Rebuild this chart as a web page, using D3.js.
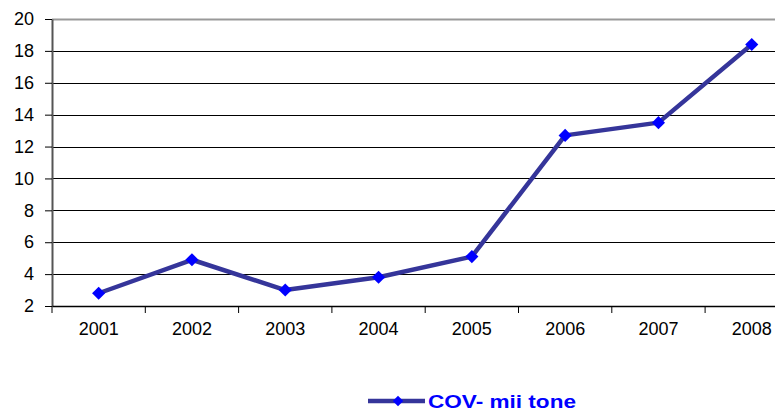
<!DOCTYPE html>
<html>
<head>
<meta charset="utf-8">
<script src="https://cdn.jsdelivr.net/npm/d3@7"></script>
<style>
body { margin: 0; background: #fff; }
svg text { font-family: "Liberation Sans", Arial, sans-serif; }
</style>
</head>
<body>
<div id="chart"></div>
<script>
var years = ["2001", "2002", "2003", "2004", "2005", "2006", "2007", "2008"];
var cov = [2.8, 4.9, 3.0, 3.8, 5.1, 12.7, 13.5, 18.4];
var yTicks = [2, 4, 6, 8, 10, 12, 14, 16, 18, 20];
var seriesName = "COV- mii tone";

var svg = d3.select("#chart")
  .append("svg")
  .attr("width", 775)
  .attr("height", 412);

var margin = {top: 19, left: 52},
    plotW = 8 * 93.3,
    plotH = 287;

var x = d3.scaleBand().domain(years).range([0, plotW]);
var y = d3.scaleLinear().domain([2, 20]).range([plotH, 0]);

var g = svg.append("g").attr("transform", "translate(" + margin.left + "," + margin.top + ")");

// gridlines
g.selectAll("line.grid")
  .data(yTicks.slice(1))
  .enter().append("line")
  .attr("class", "grid")
  .attr("x1", 0)
  .attr("x2", plotW)
  .attr("y1", function(d) { return Math.round(y(d)) + 0.5; })
  .attr("y2", function(d) { return Math.round(y(d)) + 0.5; })
  .attr("stroke", function(d) { return d == 20 ? "#999" : "#000"; })
  .attr("stroke-width", function(d) { return d == 20 ? 2 : 1; });

// y axis
var yAxis = g.append("g")
  .call(d3.axisLeft(y).tickValues(yTicks).tickSize(7).tickSizeOuter(0).tickPadding(11));
yAxis.select(".domain").attr("stroke", "#555").attr("stroke-width", 2);
yAxis.selectAll(".tick line").attr("stroke", "#000");
yAxis.selectAll("text").attr("font-size", 18).attr("fill", "#000");

// x axis
var xAxis = g.append("g")
  .attr("transform", "translate(0," + plotH + ")")
  .call(d3.axisBottom(x).tickSize(0).tickPadding(16));
xAxis.select(".domain").attr("stroke", "#000").attr("stroke-width", 1.5);
xAxis.selectAll("text").attr("font-size", 18).attr("fill", "#000");

g.append("g")
  .selectAll("line")
  .data(years)
  .enter().append("line")
  .attr("x1", function(d) { return x(d); })
  .attr("x2", function(d) { return x(d); })
  .attr("y1", plotH)
  .attr("y2", plotH + 7)
  .attr("stroke", "#000");

// line
var line = d3.line()
  .x(function(d, i) { return x(years[i]) + x.bandwidth() / 2; })
  .y(function(d) { return y(d); });

g.append("path")
  .datum(cov)
  .attr("d", line)
  .attr("fill", "none")
  .attr("stroke", "#35359a")
  .attr("stroke-width", 4.5)
  .attr("stroke-linejoin", "round");

var diamond = d3.symbol().type(d3.symbolDiamond2).size(110);

g.selectAll("path.pt")
  .data(cov)
  .enter().append("path")
  .attr("class", "pt")
  .attr("d", diamond)
  .attr("transform", function(d, i) { return "translate(" + (x(years[i]) + x.bandwidth() / 2) + "," + y(d) + ")"; })
  .attr("fill", "#0000ff");

// legend
var leg = svg.append("g").attr("transform", "translate(368,401)");
leg.append("line")
  .attr("x1", 0).attr("x2", 57)
  .attr("y1", 0).attr("y2", 0)
  .attr("stroke", "#35359a")
  .attr("stroke-width", 4.5);
leg.append("path")
  .attr("d", d3.symbol().type(d3.symbolDiamond2).size(70))
  .attr("transform", "translate(30,0)")
  .attr("fill", "#0000ff");
leg.append("text")
  .attr("x", 60)
  .attr("y", 7)
  .attr("font-size", 19)
  .attr("font-weight", "bold")
  .attr("fill", "#0000ff")
  .attr("textLength", 148)
  .attr("lengthAdjust", "spacingAndGlyphs")
  .text(seriesName);
</script>
</body>
</html>
